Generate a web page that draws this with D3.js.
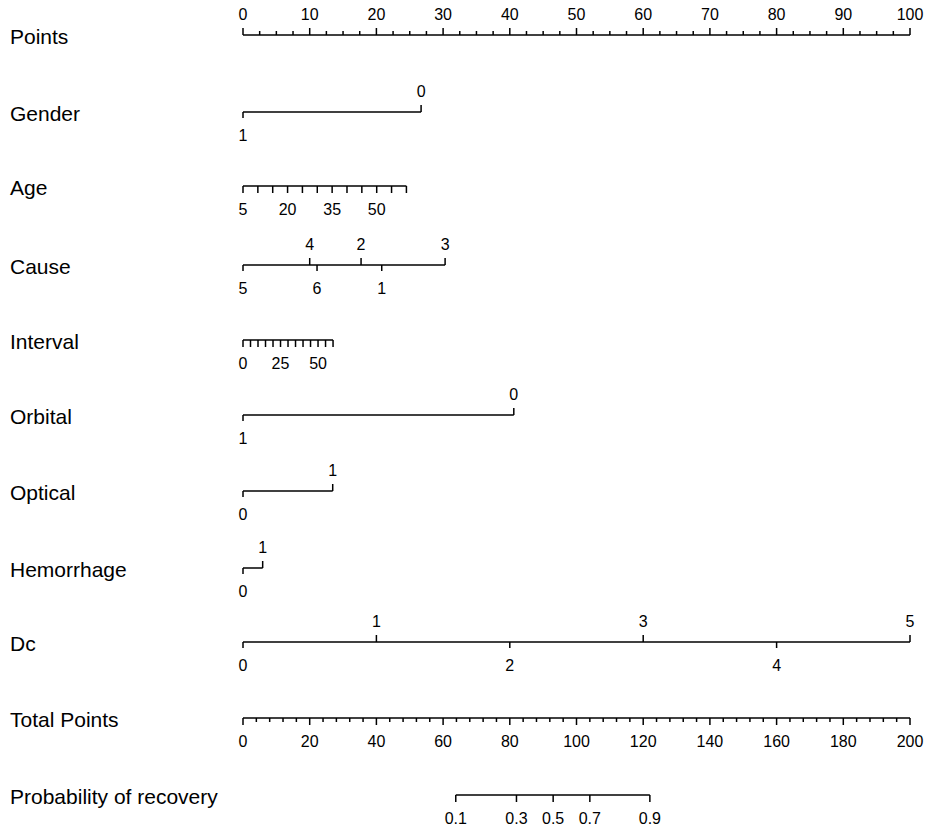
<!DOCTYPE html>
<html>
<head>
<meta charset="utf-8">
<script src="https://cdn.jsdelivr.net/npm/d3@7"></script>
<style>
  body { margin: 0; background: #fff; }
  text { font-family: "Liberation Sans", Arial, sans-serif; fill: #000; }
</style>
</head>
<body>
<svg id="chart" width="935" height="834"></svg>
<script>
// row titles, top to bottom
var rowNames = ['Points', 'Gender', 'Age', 'Cause', 'Interval', 'Orbital', 'Optical',
  'Hemorrhage', 'Dc', 'Total Points', 'Probability of recovery'];

// points scale ticks
var pointsMajor = [0, 10, 20, 30, 40, 50, 60, 70, 80, 90, 100];
var pointsMinorStep = 2.5;

// categorical predictors: level, points, label side
var genderLevels = ['1', '0'], genderPoints = [0, 26.7], genderSide = ['down', 'up'];
var causeLevels = ['5', '4', '6', '2', '1', '3'];
var causePoints = [0, 10.0, 11.1, 17.7, 20.8, 30.3];
var causeSide = ['down', 'up', 'down', 'up', 'down', 'up'];
var orbitalLevels = ['1', '0'], orbitalPoints = [0, 40.6], orbitalSide = ['down', 'up'];
var opticalLevels = ['0', '1'], opticalPoints = [0, 13.45], opticalSide = ['down', 'up'];
var hemoLevels = ['0', '1'], hemoPoints = [0, 2.95], hemoSide = ['down', 'up'];
var dcLevels = ['0', '1', '2', '3', '4', '5'];
var dcPoints = [0, 20, 40, 60, 80, 100];
var dcSide = ['down', 'up', 'down', 'up', 'down', 'up'];

// continuous predictors
var ageRange = [5, 60], agePointsRange = [0, 24.5];
var ageTicks = [5, 10, 15, 20, 25, 30, 35, 40, 45, 50, 55, 60];
var ageLabels = [5, 20, 35, 50];
var intervalRange = [0, 60], intervalPointsRange = [0, 13.5];
var intervalTicks = [0, 5, 10, 15, 20, 25, 30, 35, 40, 45, 50, 55, 60];
var intervalLabels = [0, 25, 50];

// total points and probability
var totalMajor = [0, 20, 40, 60, 80, 100, 120, 140, 160, 180, 200];
var totalMinorStep = 4;
var probValues = ['0.1', '0.3', '0.5', '0.7', '0.9'];
var probTotal = [63.8, 82, 93, 104, 122];

var svg = d3.select('#chart');
var rowY = [35, 112, 186, 265, 340, 415, 491, 568, 642, 718, 795];

var x = d3.scaleLinear().domain([0, 100]).range([243, 910]);
var xTotal = d3.scaleLinear().domain([0, 200]).range([243, 910]);

var tickFont = 16, labelFont = 21;
var sw = 1.5;

// row titles
svg.selectAll('text.row')
  .data(rowNames)
  .enter()
  .append('text')
  .attr('class', 'row')
  .attr('x', 10)
  .attr('y', (d, i) => rowY[i] + 2)
  .attr('dy', '0.35em')
  .style('font-size', labelFont + 'px')
  .text(d => d);

function hline(y, x1, x2) {
  svg.append('line')
    .attr('x1', x1).attr('x2', x2).attr('y1', y).attr('y2', y)
    .attr('stroke', '#000').attr('stroke-width', sw);
}

function tick(y, px, len) {
  // len < 0 draws upward
  svg.append('line')
    .attr('x1', px).attr('x2', px).attr('y1', y).attr('y2', y + len)
    .attr('stroke', '#000').attr('stroke-width', sw);
}

function label(y, px, txt, side) {
  svg.append('text')
    .attr('x', px)
    .attr('y', side == 'up' ? y - 15 : y + 29)
    .attr('text-anchor', 'middle')
    .style('font-size', tickFont + 'px')
    .text(txt);
}

// Points axis
var y0 = rowY[0];
hline(y0, x(0), x(100));
d3.range(0, 100 + 0.01, pointsMinorStep).forEach(function (v) {
  var major = pointsMajor.indexOf(v) >= 0;
  tick(y0, x(v), major ? -7 : -4);
});
pointsMajor.forEach(v => label(y0, x(v), v, 'up'));

// categorical rows
function catRow(row, levels, pts, sides) {
  var y = rowY[row];
  hline(y, x(d3.min(pts)), x(d3.max(pts)));
  levels.forEach(function (lv, i) {
    tick(y, x(pts[i]), sides[i] == 'up' ? -7 : 6);
    label(y, x(pts[i]), lv, sides[i]);
  });
}

// continuous rows
function contRow(row, range, ptsRange, ticks, labels) {
  var y = rowY[row];
  var s = d3.scaleLinear().domain(range).range(ptsRange.map(x));
  hline(y, s(range[0]), s(range[1]));
  ticks.forEach(v => tick(y, s(v), 7));
  labels.forEach(v => label(y, s(v), v, 'down'));
}

catRow(1, genderLevels, genderPoints, genderSide);
contRow(2, ageRange, agePointsRange, ageTicks, ageLabels);
catRow(3, causeLevels, causePoints, causeSide);
contRow(4, intervalRange, intervalPointsRange, intervalTicks, intervalLabels);
catRow(5, orbitalLevels, orbitalPoints, orbitalSide);
catRow(6, opticalLevels, opticalPoints, opticalSide);
catRow(7, hemoLevels, hemoPoints, hemoSide);
catRow(8, dcLevels, dcPoints, dcSide);

// Total points axis
var yt = rowY[9];
hline(yt, xTotal(0), xTotal(200));
d3.range(0, 200 + 0.01, totalMinorStep).forEach(function (v) {
  var major = totalMajor.indexOf(v) >= 0;
  tick(yt, xTotal(v), major ? 7 : 4);
});
totalMajor.forEach(v => label(yt, xTotal(v), v, 'down'));

// Probability axis
var yp = rowY[10];
hline(yp, xTotal(d3.min(probTotal)), xTotal(d3.max(probTotal)));
probValues.forEach(function (p, i) {
  tick(yp, xTotal(probTotal[i]), 7);
  label(yp, xTotal(probTotal[i]), p, 'down');
});
</script>
</body>
</html>
